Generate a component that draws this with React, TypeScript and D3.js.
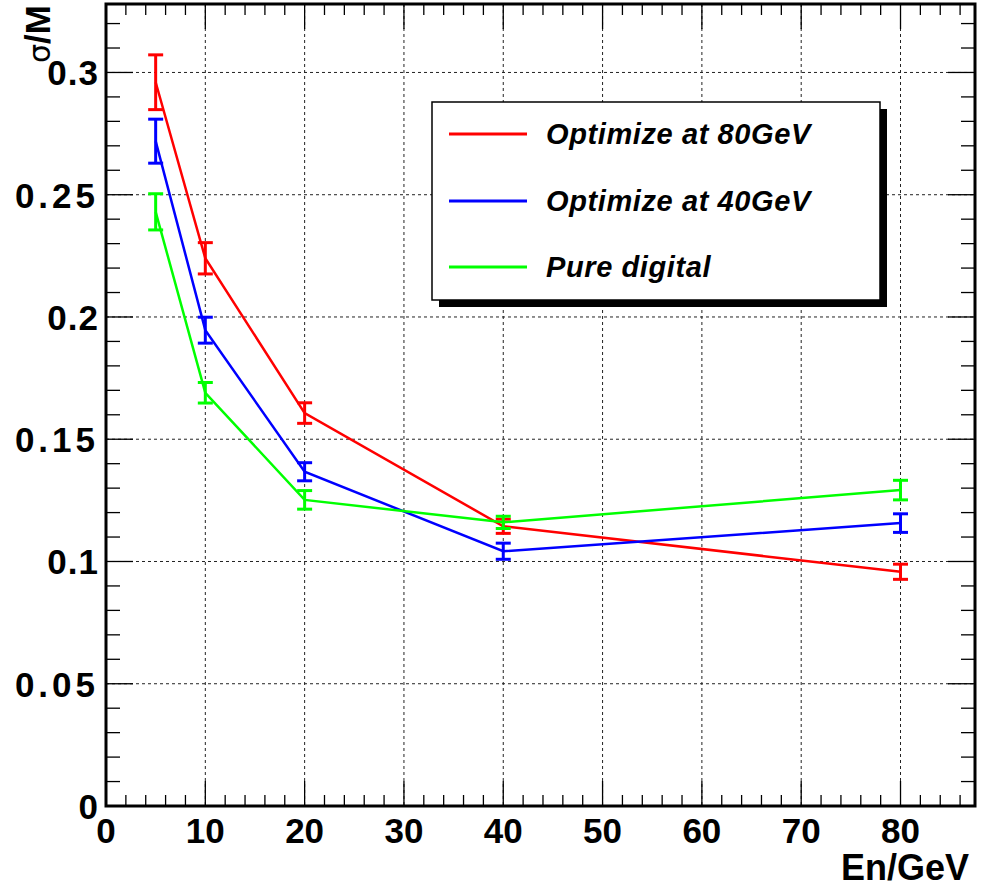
import React from "react";
import * as d3 from "d3";

const energies = [5, 10, 20, 40, 80];
const red80 = [0.296, 0.224, 0.1607, 0.1144, 0.0958];
const red80Err = [0.0112, 0.0064, 0.0042, 0.0029, 0.0031];
const blue40 = [0.2719, 0.1946, 0.1367, 0.1042, 0.1157];
const blue40Err = [0.009, 0.0053, 0.0037, 0.0033, 0.0038];
const greenDigital = [0.243, 0.169, 0.1252, 0.116, 0.1292];
const greenDigitalErr = [0.0074, 0.0042, 0.0038, 0.0025, 0.004];
const seriesNames = ["Optimize at 80GeV", "Optimize at 40GeV", "Pure digital"];
const seriesColors = ["#ff0000", "#0000ff", "#00ff00"];
const xTicks = [0, 10, 20, 30, 40, 50, 60, 70, 80];
const yTicks = [0, 0.05, 0.1, 0.15, 0.2, 0.25, 0.3];
const yTickLabels = ["0", "0.05", "0.1", "0.15", "0.2", "0.25", "0.3"];

const W = 988, H = 888;
const L = 106, R = 975, T = 4, B = 806;
const FONT = "'Liberation Sans', Arial, Helvetica, sans-serif";

export default function App() {
  const x = d3.scaleLinear().domain([0, 87.5]).range([L, R]);
  const y = d3.scaleLinear().domain([0, 0.328]).range([B, T]);
  const series = [
    { v: red80, e: red80Err },
    { v: blue40, e: blue40Err },
    { v: greenDigital, e: greenDigitalErr },
  ];
  const line = d3.line<number>().x((_, i) => x(energies[i])).y((d) => y(d));
  const xMinor = d3.range(0, 87.5, 2);
  const yMinor = d3.range(0, 0.3281, 0.01);

  const legX = 432, legY = 102, legW = 448, legH = 198;
  const rowsY = [134, 201, 267];

  return (
    <svg width={W} height={H} style={{ position: "absolute", left: 0, top: 0, background: "#fff" }} fontFamily={FONT}>
      <rect x={0} y={0} width={W} height={H} fill="#fff" />
      {xTicks.filter((t) => t > 0).map((t) => (
        <line key={"gx" + t} x1={x(t)} x2={x(t)} y1={T} y2={B} stroke="#222" strokeWidth={1} strokeDasharray="3,3" />
      ))}
      {yTicks.filter((t) => t > 0).map((t) => (
        <line key={"gy" + t} x1={L} x2={R} y1={y(t)} y2={y(t)} stroke="#222" strokeWidth={1} strokeDasharray="3,3" />
      ))}
      {xMinor.map((t) => {
        const major = t % 10 === 0;
        const len = major ? 25 : 11;
        return (
          <g key={"xt" + t}>
            <line x1={x(t)} x2={x(t)} y1={B} y2={B - len} stroke="#000" strokeWidth={1.3} />
            <line x1={x(t)} x2={x(t)} y1={T} y2={T + len} stroke="#000" strokeWidth={1.3} />
          </g>
        );
      })}
      {yMinor.map((t, i) => {
        const major = i % 5 === 0;
        const len = major ? 27 : 14;
        return (
          <g key={"yt" + i}>
            <line x1={L} x2={L + len} y1={y(t)} y2={y(t)} stroke="#000" strokeWidth={1.3} />
            <line x1={R} x2={R - len} y1={y(t)} y2={y(t)} stroke="#000" strokeWidth={1.3} />
          </g>
        );
      })}
      <rect x={L} y={T} width={R - L} height={B - T} fill="none" stroke="#000" strokeWidth={3} />
      {xTicks.map((t) => (
        <text key={"xl" + t} x={x(t)} y={843} textAnchor="middle" fontSize={35} fontWeight="bold" fill="#000">
          {t}
        </text>
      ))}
      {yTicks.map((t, i) => (
        <text key={"yl" + t} x={99} y={y(t) + 13} textAnchor="end" fontSize={35} fontWeight="bold" fill="#000" letterSpacing={yTickLabels[i].length > 3 ? 4 : 1}>
          {yTickLabels[i]}
        </text>
      ))}
      <text x={969} y={880} textAnchor="end" fontSize={36} fontWeight="bold" fill="#000">En/GeV</text>
      <text transform="translate(50,5) rotate(-90)" textAnchor="end" fontSize={35} fontWeight="bold" fill="#000">
        <tspan fontWeight="normal" fontFamily="'DejaVu Sans', sans-serif" fontSize={30}>σ</tspan>/M
      </text>
      {series.map((s, si) => (
        <g key={"s" + si}>
          <path d={line(s.v) || ""} fill="none" stroke={seriesColors[si]} strokeWidth={2.5} />
          {s.v.map((v, i) => {
            const cx = x(energies[i]);
            const y1 = y(v + s.e[i]);
            const y2 = y(v - s.e[i]);
            return (
              <g key={i} stroke={seriesColors[si]} strokeWidth={3}>
                <line x1={cx} x2={cx} y1={y1} y2={y2} />
                <line x1={cx - 7.5} x2={cx + 7.5} y1={y1} y2={y1} />
                <line x1={cx - 7.5} x2={cx + 7.5} y1={y2} y2={y2} />
              </g>
            );
          })}
        </g>
      ))}
      <rect x={legX + 7} y={legY + 7} width={legW} height={legH} fill="#000" />
      <rect x={legX} y={legY} width={legW} height={legH} fill="#fff" stroke="#000" strokeWidth={1.5} />
      {seriesNames.map((n, i) => (
        <g key={"lg" + i}>
          <line x1={449} x2={527} y1={rowsY[i]} y2={rowsY[i]} stroke={seriesColors[i]} strokeWidth={3} />
          <text x={546} y={rowsY[i] + 10} fontSize={29} fontWeight="bold" fontStyle="italic" fill="#000" letterSpacing={0.6}>
            {n}
          </text>
        </g>
      ))}
    </svg>
  );
}
